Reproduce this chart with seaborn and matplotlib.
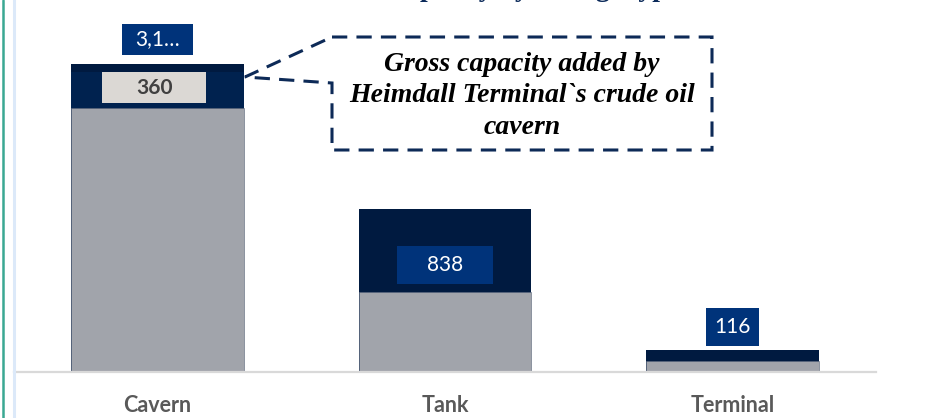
import numpy as np
import pandas as pd
import seaborn as sns
import matplotlib.pyplot as plt
from matplotlib.patches import Rectangle, Polygon
from matplotlib.lines import Line2D

# data
categories = ["Cavern", "Tank", "Terminal"]
base_capacity = [2690, 821, 115]      # grey segment
heimdall_added = [360, 0, 0]          # mid navy segment (Heimdall cavern)
other_capacity = [85, 838, 116]       # dark navy top segment
label_texts = ["3,1…", "360", "838", "116"]

sns.set_theme(style="white")
plt.rcParams["font.family"] = ["Lato", "DejaVu Sans"]

df = pd.DataFrame({"category": categories,
                   "base": base_capacity,
                   "heimdall": heimdall_added,
                   "other": other_capacity})
df["lvl2"] = df["base"] + df["heimdall"]
df["total"] = df["lvl2"] + df["other"]

fig = plt.figure(figsize=(9.33, 4.18), dpi=100)
ax = fig.add_axes([0.015, 0.1089, 0.9239, 0.8911])

bw = 0.602
sns.barplot(data=df, x="category", y="total", color="#001a40", width=bw, saturation=1,
            edgecolor="none", ax=ax)
sns.barplot(data=df, x="category", y="lvl2", color="#00224f", width=bw, saturation=1,
            edgecolor="none", ax=ax)
sns.barplot(data=df, x="category", y="base", color="#a1a4ab", width=bw, saturation=1,
            edgecolor="#5a6478", linewidth=0.4, ax=ax)

ax.set_xlim(-0.5, 2.5)
ax.set_ylim(0, 3786)
ax.set_xlabel("")
ax.set_ylabel("")
ax.set_yticks([])
for s in ["top", "left", "right"]:
    ax.spines[s].set_visible(False)
ax.spines["bottom"].set_color("#d9d9d9")
ax.spines["bottom"].set_linewidth(1.6)
ax.spines["bottom"].set_zorder(4)
ax.tick_params(axis="x", length=0, pad=16)
for t in ax.get_xticklabels():
    t.set_fontweight("bold")
    t.set_fontsize(15.5)
    t.set_color("#595959")

# data label boxes: (x, y center, width, height, face, text colour, weight)
label_boxes = [
    (0.0, 3384, 0.247, 315, "#00337a", "white", "normal"),
    (-0.012, 2896, 0.362, 315, "#dbd8d4", "#404040", "bold"),
    (1.0, 1092, 0.334, 386, "#00337a", "white", "normal"),
    (2.0, 462, 0.1845, 386, "#00337a", "white", "normal"),
]
for txt, (x, y, w, h, fc, tc, fw) in zip(label_texts, label_boxes):
    ax.add_patch(Rectangle((x - w / 2, y - h / 2), w, h, facecolor=fc, edgecolor="none", zorder=5))
    ax.text(x, y, txt, ha="center", va="center", color=tc, fontsize=15, fontweight=fw, zorder=6)

# overlay in pixel space for the callout and frame lines
ov = fig.add_axes([0, 0, 1, 1], zorder=10)
ov.set_xlim(0, 933)
ov.set_ylim(418, 0)
ov.axis("off")
ov.patch.set_alpha(0)

callout = Polygon([(332, 37), (712, 37), (712, 150), (332, 150), (332, 83), (245, 77)],
                  closed=True, facecolor="none", edgecolor="#0d2a57", linewidth=2.2,
                  linestyle=(0, (5, 3)))
ov.add_patch(callout)
ov.text(522, 96, "Gross capacity added by\nHeimdall Terminal`s crude oil\ncavern",
        ha="center", va="center", fontsize=20, fontweight="bold", fontstyle="italic",
        family=["Liberation Serif", "DejaVu Serif"], color="black", linespacing=1.36)

ov.add_line(Line2D([2.5, 2.5], [0, 418], color="#3aa893", linewidth=1.8))
ov.add_line(Line2D([13.5, 13.5], [0, 418], color="#dce9f9", linewidth=2.2))

# title is cut off at the top edge in the reference
fig.text(0.535, 1.0085, "Gross capacity by storage type", ha="center", va="baseline",
         fontsize=20, fontweight="bold", family=["Liberation Serif", "DejaVu Serif"],
         color="#0b2a5a")

fig.savefig("out.png", dpi=100)
